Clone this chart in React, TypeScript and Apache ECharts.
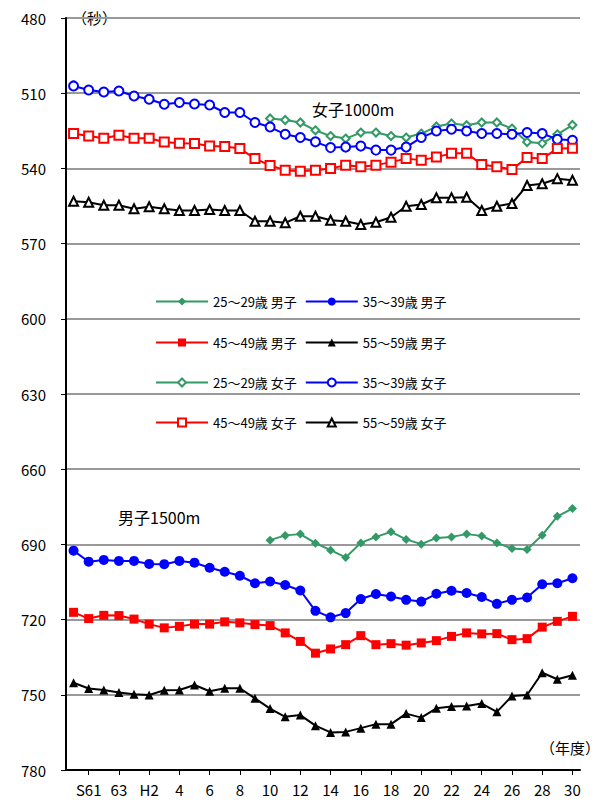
import { useRef, useEffect } from "react";
import * as echarts from "echarts";

const years = [
  "S60", "S61", "S62", "S63", "H1", "H2", "H3", "H4", "H5", "H6", "H7", "H8", "H9",
  "H10", "H11", "H12", "H13", "H14", "H15", "H16", "H17", "H18", "H19", "H20", "H21",
  "H22", "H23", "H24", "H25", "H26", "H27", "H28", "H29", "H30",
];

const _ = null;
// 男子1500m
const m25 = [_, _, _, _, _, _, _, _, _, _, _, _, _, 688.3, 686.4, 685.9, 689.5, 692.3, 695.2, 689.4, 687, 685, 688, 689.9, 687.4, 687, 685.9, 686.6, 689.4, 691.6, 692, 686.3, 678.8, 675.7];
const m35 = [692.5, 696.9, 696.2, 696.6, 696.6, 697.8, 697.9, 696.6, 697.3, 699.3, 700.9, 702.5, 705.5, 704.8, 706.2, 708.4, 716.5, 719.1, 717.4, 711.8, 709.8, 710.8, 712.1, 712.8, 709.7, 708.5, 709.4, 711, 713.7, 712.1, 711.2, 705.9, 705.5, 703.5];
const m45 = [717.1, 719.6, 718.3, 718.4, 719.8, 721.8, 723.3, 722.7, 721.8, 721.8, 720.9, 721.3, 722, 722.4, 725.3, 728.7, 733.4, 731.7, 730, 726.4, 730, 729.6, 730.2, 729.3, 728.4, 726.7, 725.3, 725.7, 725.6, 728, 727.6, 723, 720.7, 718.7];
const m55 = [745.2, 747.5, 748.1, 749.1, 749.8, 750.1, 748.2, 748.1, 746.1, 748.6, 747.4, 747.4, 751.4, 755.5, 758.8, 758.1, 762.3, 765, 764.8, 763.3, 761.7, 761.7, 757.5, 759.1, 755.4, 754.7, 754.5, 753.5, 756.8, 750.5, 750.1, 741.2, 743.8, 742.2];
// 女子1000m
const f25 = [_, _, _, _, _, _, _, _, _, _, _, _, _, 520.1, 520.7, 521.7, 524.8, 527.1, 528.1, 525.7, 525.7, 527.1, 527.7, 526.1, 523.3, 522.1, 522.8, 521.7, 521.7, 524.1, 529.5, 530, 526.4, 522.7];
const f35 = [507.1, 508.7, 509.5, 509.1, 511.1, 512.4, 514.4, 513.7, 514.3, 514.7, 517.7, 517.7, 521.7, 523.5, 526.4, 527.7, 529.4, 531.7, 531.5, 531.1, 532.7, 532.7, 531.5, 527.7, 525.1, 524.4, 525.1, 526.1, 526.1, 526.4, 525.7, 526.1, 528.4, 528.8];
const f45 = [526.1, 527.1, 528, 526.8, 528, 528, 529.5, 530, 530.1, 531.1, 531.3, 532.1, 536.1, 538.8, 540.7, 541.1, 540.7, 540, 538.7, 539.3, 538.7, 537.5, 536.1, 536.7, 535.5, 534, 534, 538.4, 539.3, 540.4, 535.7, 536.1, 532.1, 532];
const f55 = [553.1, 553.5, 554.7, 554.7, 556.1, 555.3, 556.1, 556.8, 556.8, 556.4, 556.8, 556.8, 561.1, 561.1, 561.7, 559.1, 559.1, 560.7, 561.1, 562.4, 561.5, 559.5, 555.1, 554.4, 551.7, 551.7, 551.5, 556.8, 555.1, 554, 546.8, 546.1, 544.1, 544.7];

const yTicks = [480, 510, 540, 570, 600, 630, 660, 690, 720, 750, 780];

const GREEN = "#339966";
const FONT = "'Noto Sans CJK JP', sans-serif";

const App = () => {
  const chartRef = useRef<HTMLDivElement>(null);

  useEffect(() => {
    const chart = echarts.init(chartRef.current, null, { renderer: "svg" });

    const mk = (name: string, data: any[], color: string, symbol: string, size: number) => ({
      name,
      type: "line",
      data,
      symbol,
      symbolSize: size,
      lineStyle: { color, width: 2 },
      itemStyle: { color, borderColor: color, borderWidth: symbol.startsWith("empty") ? 2 : 0 },
      connectNulls: false,
    });

    const series = [
      mk("25〜29歳 男子", m25, GREEN, "diamond", 9),
      mk("35〜39歳 男子", m35, "#0000ff", "circle", 10),
      mk("45〜49歳 男子", m45, "#ff0000", "rect", 9),
      mk("55〜59歳 男子", m55, "#000000", "triangle", 9),
      mk("25〜29歳 女子", f25, GREEN, "emptyDiamond", 8),
      mk("35〜39歳 女子", f35, "#0000ff", "emptyCircle", 9),
      mk("45〜49歳 女子", f45, "#ff0000", "emptyRect", 9),
      mk("55〜59歳 女子", f55, "#000000", "emptyTriangle", 9),
    ];

    const legendRow = (names: string[], top: number) => ({
      top,
      left: 150,
      itemWidth: 52,
      itemHeight: 10,
      itemGap: 8,
      data: names,
      textStyle: { fontFamily: FONT, fontSize: 13, color: "#000", width: 140 },
    });

    chart.setOption({
      animation: false,
      textStyle: { fontFamily: FONT },
      grid: { left: 66, right: 23, top: 18, bottom: 35 },
      legend: [
        legendRow([series[0].name, series[1].name], 290),
        legendRow([series[2].name, series[3].name], 331),
        legendRow([series[4].name, series[5].name], 371),
        legendRow([series[6].name, series[7].name], 411),
      ],
      xAxis: {
        type: "category",
        data: years,
        boundaryGap: true,
        axisLine: { lineStyle: { color: "#000", width: 2 } },
        axisTick: { show: true, alignWithLabel: true, lineStyle: { color: "#000" } },
        axisLabel: {
          interval: (i: number) => i % 2 === 1,
          color: "#000",
          fontSize: 15,
          margin: 12,
          formatter: (v: string) => (v === "S61" || v === "H2" ? v : v.replace(/^[SH]/, "")),
        },
      },
      yAxis: {
        type: "value",
        inverse: true,
        min: yTicks[0],
        max: yTicks[yTicks.length - 1],
        interval: 30,
        axisLine: { show: true, lineStyle: { color: "#000", width: 2 } },
        axisTick: { show: true, lineStyle: { color: "#000" } },
        axisLabel: { color: "#000", fontSize: 15, margin: 20 },
        splitLine: { lineStyle: { color: "#999", width: 2 } },
      },
      graphic: [
        { type: "text", left: 72, top: 10, style: { text: "（秒）", font: `15px ${FONT}`, fill: "#000" } },
        { type: "text", left: 540, top: 740, style: { text: "（年度）", font: `15px ${FONT}`, fill: "#000" } },
        { type: "text", left: 312, top: 101, style: { text: "女子1000m", font: `16px ${FONT}`, fill: "#000" } },
        { type: "text", left: 118, top: 509, style: { text: "男子1500m", font: `16px ${FONT}`, fill: "#000" } },
      ],
      series,
    });

    return () => {
      chart.dispose();
    };
  }, []);

  return <div ref={chartRef} style={{ width: "603px", height: "805px", margin: "-8px" }}></div>;
};

export default App;
